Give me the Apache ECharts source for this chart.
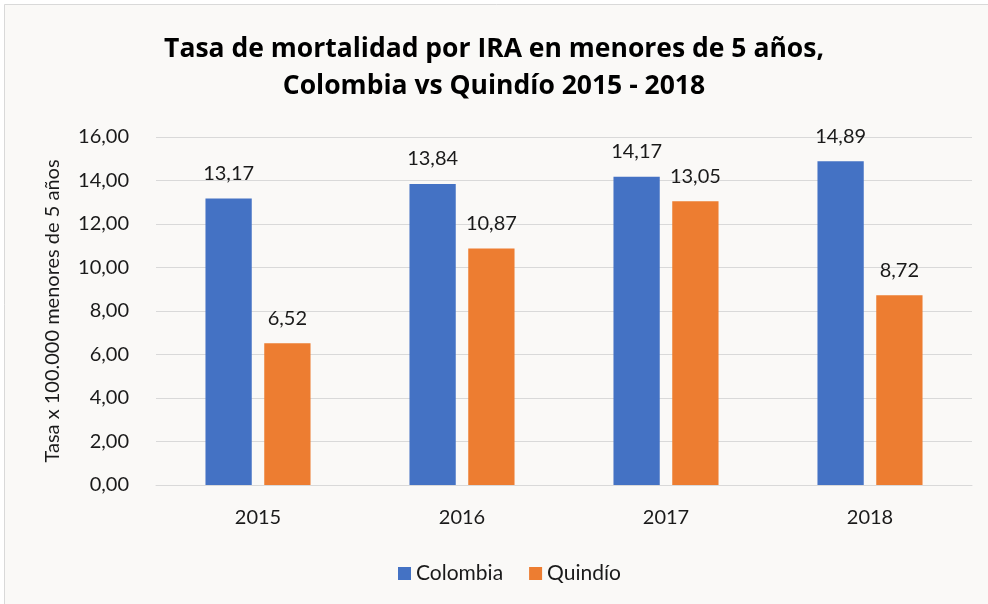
<!DOCTYPE html>
<html><head><meta charset="utf-8">
<script src="https://cdn.jsdelivr.net/npm/echarts@6/dist/echarts.min.js"></script>
<style>html,body{margin:0;padding:0;background:#fff;}#c{width:988px;height:604px;}</style>
</head><body><div id="c"></div>
<script>
const categories = ['2015', '2016', '2017', '2018'];
const colombia = [13.17, 13.84, 14.17, 14.89];
const quindio = [6.52, 10.87, 13.05, 8.72];
const seriesNames = ['Colombia', 'Quindío'];
const titleText = 'Tasa de mortalidad por IRA en menores de 5 años,\nColombia vs Quindío 2015 - 2018';
const yName = 'Tasa x 100.000 menores de 5 años';

const fmt = v => Number(v).toFixed(2).replace('.', ',');
const font = 'Lato, "Open Sans", sans-serif';
const chart = echarts.init(document.getElementById('c'));
const labelCfg = {show: true, position: 'top', distance: 15, color: '#1a1a1a', fontSize: 20, fontFamily: font, formatter: p => fmt(p.value)};
chart.setOption({
  backgroundColor: '#fff',
  graphic: [{type: 'rect', z: -10, shape: {x: 4.5, y: 4.5, width: 1000, height: 1000}, style: {fill: '#faf9f7', stroke: '#d9d9d9', lineWidth: 1}}],
  title: {text: titleText, left: 'center', top: 26, textStyle: {fontFamily: '"Open Sans", sans-serif', fontWeight: 'bold', fontSize: 26.5, lineHeight: 37, color: '#000'}},
  grid: {left: 156, right: 16, top: 137, bottom: 119},
  legend: {data: seriesNames, bottom: 15, left: 393, itemWidth: 13, itemHeight: 13, itemGap: 26, icon: 'rect',
    textStyle: {fontFamily: font, fontSize: 21, color: '#1a1a1a'}},
  xAxis: {type: 'category', data: categories, axisTick: {show: false},
    axisLine: {lineStyle: {color: '#d9d9d9', width: 1}},
    axisLabel: {color: '#1a1a1a', fontSize: 20, fontFamily: font, margin: 23}},
  yAxis: {type: 'value', min: 0, max: 16, interval: 2, name: yName, nameLocation: 'middle', nameGap: 93,
    nameTextStyle: {fontFamily: font, fontSize: 20, color: '#1a1a1a'},
    axisLabel: {color: '#1a1a1a', fontSize: 20, fontFamily: font, margin: 27, formatter: fmt},
    splitLine: {lineStyle: {color: '#d9d9d9', width: 1}}, axisLine: {show: false}, axisTick: {show: false}},
  series: [
    {name: seriesNames[0], type: 'bar', data: colombia, itemStyle: {color: '#4472c4'}, barGap: '27%', barCategoryGap: '48.5%', label: labelCfg},
    {name: seriesNames[1], type: 'bar', data: quindio, itemStyle: {color: '#ed7d31'}, label: labelCfg}
  ]
});
</script></body></html>
